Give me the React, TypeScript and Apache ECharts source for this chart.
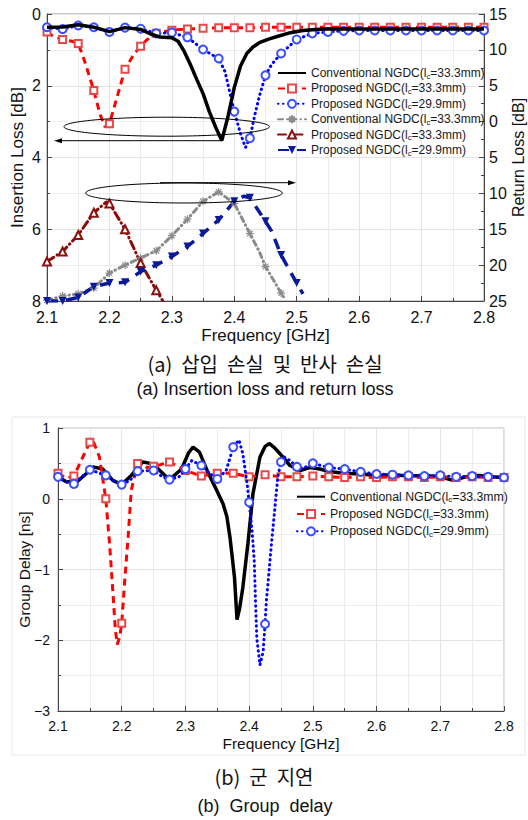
import React, { useEffect, useRef } from "react";
import * as echarts from "echarts";

const FONT = "'Liberation Sans', Arial, Helvetica, sans-serif";
const KFONT = "'Noto Sans CJK KR', 'Liberation Sans', sans-serif";

// ---------- (a) Insertion loss [dB] (left axis) ----------
const ilConvFreq = [2.1, 2.125, 2.15, 2.175, 2.2, 2.225, 2.25, 2.265, 2.28, 2.3, 2.31, 2.32, 2.33, 2.34, 2.35, 2.36, 2.37, 2.38, 2.39, 2.4, 2.41, 2.42, 2.43, 2.44, 2.455, 2.47, 2.49, 2.51, 2.53, 2.55, 2.6, 2.65, 2.7, 2.75, 2.8];
const ilConvVal = [0.37, 0.36, 0.3, 0.37, 0.49, 0.38, 0.43, 0.55, 0.64, 0.66, 0.76, 1.05, 1.42, 1.83, 2.22, 2.72, 3.15, 3.53, 2.85, 2.05, 1.45, 1.1, 0.92, 0.8, 0.7, 0.62, 0.52, 0.46, 0.43, 0.42, 0.42, 0.42, 0.42, 0.42, 0.42];

const ilP33Freq = [2.1, 2.11, 2.125, 2.14, 2.15, 2.16, 2.175, 2.185, 2.193, 2.2, 2.21, 2.225, 2.24, 2.25, 2.26, 2.275, 2.3, 2.325, 2.35, 2.375, 2.4, 2.425, 2.45, 2.475, 2.5, 2.525, 2.55, 2.575, 2.6, 2.625, 2.65, 2.675, 2.7, 2.725, 2.75, 2.775, 2.8];
const ilP33Val = [0.5, 0.62, 0.71, 0.76, 0.82, 1.3, 2.13, 2.8, 3.15, 3.06, 2.45, 1.54, 1.1, 0.9, 0.72, 0.54, 0.45, 0.42, 0.4, 0.38, 0.38, 0.38, 0.37, 0.37, 0.37, 0.37, 0.37, 0.37, 0.37, 0.37, 0.37, 0.37, 0.37, 0.37, 0.37, 0.37, 0.37];

const ilP29Freq = [2.1, 2.125, 2.15, 2.175, 2.2, 2.225, 2.25, 2.275, 2.3, 2.325, 2.35, 2.375, 2.385, 2.393, 2.4, 2.41, 2.418, 2.425, 2.432, 2.44, 2.45, 2.46, 2.475, 2.5, 2.525, 2.55, 2.575, 2.6, 2.625, 2.65, 2.675, 2.7, 2.725, 2.75, 2.775, 2.8];
const ilP29Val = [0.37, 0.42, 0.32, 0.37, 0.5, 0.38, 0.41, 0.54, 0.52, 0.65, 0.99, 1.24, 1.6, 2.2, 2.72, 3.34, 3.72, 3.46, 2.88, 2.3, 1.71, 1.4, 1.1, 0.71, 0.54, 0.5, 0.47, 0.46, 0.46, 0.46, 0.46, 0.46, 0.46, 0.46, 0.46, 0.46];

// ---------- (a) Return loss [dB] (right axis) ----------
const rlConvFreq = [2.1, 2.125, 2.15, 2.175, 2.2, 2.225, 2.25, 2.275, 2.3, 2.325, 2.35, 2.375, 2.4, 2.425, 2.44, 2.45, 2.475, 2.48];
const rlConvVal = [24.9, 24.3, 24.0, 23.2, 21.1, 20.0, 19.0, 18.0, 15.9, 13.6, 11.1, 9.8, 11.4, 15.6, 18.1, 20.2, 23.9, 24.6];

const rlP33Freq = [2.1, 2.125, 2.15, 2.175, 2.195, 2.2, 2.225, 2.25, 2.275, 2.285];
const rlP33Val = [19.5, 18.1, 15.8, 12.7, 11.2, 11.4, 15.0, 19.7, 23.5, 24.9];

const rlP29Freq = [2.1, 2.125, 2.15, 2.175, 2.2, 2.225, 2.25, 2.275, 2.3, 2.325, 2.35, 2.375, 2.4, 2.415, 2.425, 2.45, 2.46, 2.475, 2.5, 2.51];
const rlP29Val = [25, 25, 24.5, 23.0, 22.5, 22.4, 20.9, 20.0, 18.8, 17.4, 15.6, 13.7, 11.1, 10.4, 10.6, 13.9, 15.3, 18.6, 22.5, 24.0];

// ---------- (b) Group delay [ns] ----------
const gdConvFreq = [2.1, 2.113, 2.13, 2.145, 2.155, 2.17, 2.186, 2.2, 2.215, 2.233, 2.245, 2.254, 2.27, 2.28, 2.294, 2.305, 2.312, 2.322, 2.335, 2.349, 2.359, 2.365, 2.37, 2.377, 2.381, 2.385, 2.39, 2.398, 2.406, 2.417, 2.425, 2.432, 2.44, 2.448, 2.464, 2.48, 2.495, 2.511, 2.527, 2.55, 2.575, 2.6, 2.625, 2.65, 2.675, 2.7, 2.72, 2.74, 2.76, 2.78, 2.8];
const gdConvVal = [0.31, 0.24, 0.24, 0.36, 0.45, 0.42, 0.26, 0.2, 0.33, 0.52, 0.5, 0.45, 0.31, 0.31, 0.42, 0.65, 0.73, 0.66, 0.38, 0.12, -0.07, -0.25, -0.55, -1.11, -1.71, -1.55, -1.26, -0.64, 0.07, 0.59, 0.74, 0.78, 0.72, 0.64, 0.47, 0.4, 0.44, 0.42, 0.38, 0.36, 0.35, 0.33, 0.34, 0.32, 0.33, 0.31, 0.26, 0.31, 0.33, 0.31, 0.3];

const gdP33Freq = [2.1, 2.113, 2.125, 2.139, 2.15, 2.155, 2.165, 2.175, 2.181, 2.186, 2.19, 2.193, 2.197, 2.2, 2.205, 2.21, 2.215, 2.225, 2.24, 2.25, 2.26, 2.275, 2.29, 2.3, 2.325, 2.35, 2.375, 2.4, 2.425, 2.45, 2.475, 2.5, 2.525, 2.55, 2.575, 2.6, 2.625, 2.65, 2.675, 2.7, 2.725, 2.75, 2.775, 2.8];
const gdP33Val = [0.36, 0.29, 0.32, 0.59, 0.8, 0.82, 0.59, 0.0, -0.64, -1.3, -1.85, -2.06, -1.95, -1.76, -1.12, -0.55, 0.12, 0.5, 0.44, 0.46, 0.48, 0.52, 0.45, 0.4, 0.32, 0.36, 0.36, 0.31, 0.34, 0.31, 0.31, 0.32, 0.31, 0.3, 0.31, 0.3, 0.31, 0.31, 0.3, 0.31, 0.3, 0.31, 0.3, 0.3];

const gdP29Freq = [2.1, 2.113, 2.125, 2.15, 2.175, 2.19, 2.2, 2.213, 2.225, 2.25, 2.264, 2.275, 2.29, 2.3, 2.31, 2.325, 2.338, 2.35, 2.364, 2.375, 2.384, 2.39, 2.397, 2.4, 2.405, 2.408, 2.41, 2.412, 2.417, 2.422, 2.425, 2.427, 2.43, 2.435, 2.44, 2.445, 2.45, 2.455, 2.464, 2.475, 2.485, 2.5, 2.525, 2.55, 2.575, 2.6, 2.625, 2.65, 2.675, 2.7, 2.725, 2.75, 2.775, 2.8];
const gdP29Val = [0.31, 0.24, 0.21, 0.41, 0.33, 0.24, 0.2, 0.26, 0.39, 0.4, 0.31, 0.27, 0.31, 0.42, 0.54, 0.47, 0.36, 0.28, 0.4, 0.73, 0.83, 0.64, 0.2, -0.05, -0.5, -0.88, -1.45, -1.97, -2.35, -2.16, -1.77, -1.45, -1.15, -0.64, -0.17, 0.31, 0.52, 0.59, 0.54, 0.45, 0.43, 0.5, 0.44, 0.42, 0.38, 0.35, 0.34, 0.33, 0.32, 0.33, 0.31, 0.32, 0.31, 0.3];

// ---------- axis ticks / texts ----------
const freqTicks = { min: 2.1, max: 2.8, step: 0.1 };
const ilTicks = { min: 0, max: 8, step: 2 };
const rlTicks = { min: -15, max: 25, step: 5 };
const gdTicks = { min: -3, max: 1, step: 1 };

const legendText: Record<string, string> = {
  il_conv: "{t|Conventional NGDC(l}{s|c}{t|=33.3mm)}",
  il_p33: "{t|Proposed NGDC(l}{s|c}{t|=33.3mm)}",
  il_p29: "{t|Proposed NGDC(l}{s|c}{t|=29.9mm)}",
  rl_conv: "{t|Conventional NGDC(l}{s|c}{t|=33.3mm)}",
  rl_p33: "{t|Proposed NGDC(l}{s|c}{t|=33.3mm)}",
  rl_p29: "{t|Proposed NGDC(l}{s|c}{t|=29.9mm)}",
  gd_conv: "{t|Conventional NGDC(l}{s|c}{t|=33.3mm)}",
  gd_p33: "{t|Proposed NGDC(l}{s|c}{t|=33.3mm)}",
  gd_p29: "{t|Proposed NGDC(l}{s|c}{t|=29.9mm)}",
};

const ASTERISK = "path://M5,0L5,10M0,5L10,5M1.5,1.5L8.5,8.5M8.5,1.5L1.5,8.5";

function isMarker(f: number) {
  return Math.abs(f * 40 - Math.round(f * 40)) < 1e-6;
}
function toData(freq: number[], vals: number[], marked: boolean) {
  return freq.map((f, i) =>
    marked && isMarker(f) ? [f, vals[i]] : { value: [f, vals[i]], symbol: "none" }
  );
}

const minus = (v: number) => (v < 0 ? "\u2212" + Math.abs(v) : String(v));

export default function App() {
  const ref = useRef<HTMLDivElement>(null);

  useEffect(() => {
    if (!ref.current) return;
    const chart = echarts.init(ref.current, undefined, { renderer: "svg" });

    const axisLineDark = { show: true, onZero: false, lineStyle: { color: "#444", width: 1 } };
    const gridLine = { show: true, lineStyle: { color: "#e4e4e4", width: 1 } };
    const minorGridLine = { show: true, lineStyle: { color: "#ececec", width: 1 } };
    const richFor = (size: number) => ({
      t: { fontSize: size, lineHeight: 14, fontFamily: FONT, color: "#1a1a1a" },
      s: { fontSize: size * 0.65, lineHeight: 8, fontFamily: FONT, color: "#1a1a1a", verticalAlign: "bottom" },
    });

    const option: any = {
      animation: false,
      backgroundColor: "#fff",
      grid: [
        { left: 47, top: 14, width: 437, height: 287, show: true, borderColor: "#999", borderWidth: 1, backgroundColor: "transparent", outerBoundsMode: "none", containLabel: false },
        { left: 58, top: 428, width: 446, height: 283, show: true, borderColor: "#bbb", borderWidth: 1, backgroundColor: "transparent", outerBoundsMode: "none", containLabel: false },
      ],
      xAxis: [
        {
          gridIndex: 0, type: "value", min: freqTicks.min, max: freqTicks.max, interval: freqTicks.step,
          axisLine: axisLineDark,
          axisTick: { inside: true, length: 5, lineStyle: { color: "#444" } },
          minorTick: { show: true, splitNumber: 2, length: 3, lineStyle: { color: "#444" } },
          splitLine: gridLine, minorSplitLine: minorGridLine,
          axisLabel: { fontSize: 16, color: "#111", fontFamily: FONT, margin: 8, formatter: (v: number) => v.toFixed(1) },
          name: "Frequency [GHz]", nameLocation: "middle", nameGap: 26, nameMoveOverlap: false,
          nameTextStyle: { fontSize: 17, fontFamily: FONT, color: "#111" },
        },
        {
          gridIndex: 1, type: "value", min: freqTicks.min, max: freqTicks.max, interval: freqTicks.step,
          axisLine: axisLineDark,
          axisTick: { inside: true, length: 5, lineStyle: { color: "#444" } },
          minorTick: { show: true, splitNumber: 2, length: 3, lineStyle: { color: "#444" } },
          splitLine: gridLine, minorSplitLine: minorGridLine,
          axisLabel: { fontSize: 14, color: "#111", fontFamily: FONT, margin: 8, formatter: (v: number) => v.toFixed(1) },
          name: "Frequency [GHz]", nameLocation: "middle", nameGap: 24, nameMoveOverlap: false,
          nameTextStyle: { fontSize: 15.5, fontFamily: FONT, color: "#111" },
        },
      ],
      yAxis: [
        {
          gridIndex: 0, type: "value", min: ilTicks.min, max: ilTicks.max, interval: ilTicks.step, inverse: true, position: "left",
          axisLine: axisLineDark,
          axisTick: { inside: true, length: 5, lineStyle: { color: "#444" } },
          minorTick: { show: true, splitNumber: 2, length: 3, lineStyle: { color: "#444" } },
          splitLine: gridLine, minorSplitLine: minorGridLine,
          axisLabel: { fontSize: 16, color: "#111", fontFamily: FONT, margin: 6 },
          name: "Insertion Loss [dB]", nameLocation: "middle", nameGap: 21, nameMoveOverlap: false,
          nameTextStyle: { fontSize: 17, fontFamily: FONT, color: "#111" },
        },
        {
          gridIndex: 0, type: "value", min: rlTicks.min, max: rlTicks.max, interval: rlTicks.step, inverse: true, position: "right",
          axisLine: axisLineDark,
          axisTick: { inside: true, length: 5, lineStyle: { color: "#444" } },
          minorTick: { show: true, splitNumber: 2, length: 3, lineStyle: { color: "#444" } },
          splitLine: { show: false },
          axisLabel: { fontSize: 16, color: "#111", fontFamily: FONT, margin: 5, formatter: (v: number) => String(Math.abs(v)) },
          name: "Return Loss [dB]", nameLocation: "middle", nameGap: 26, nameMoveOverlap: false,
          nameTextStyle: { fontSize: 16, fontFamily: FONT, color: "#111" },
        },
        {
          gridIndex: 1, type: "value", min: gdTicks.min, max: gdTicks.max, interval: gdTicks.step, position: "left",
          axisLine: axisLineDark,
          axisTick: { inside: true, length: 5, lineStyle: { color: "#444" } },
          minorTick: { show: true, splitNumber: 2, length: 3, lineStyle: { color: "#444" } },
          splitLine: gridLine, minorSplitLine: minorGridLine,
          axisLabel: { fontSize: 14, color: "#111", fontFamily: FONT, margin: 8, formatter: minus },
          name: "Group Delay [ns]", nameLocation: "middle", nameGap: 26, nameMoveOverlap: false,
          nameTextStyle: { fontSize: 15.5, fontFamily: FONT, color: "#111" },
        },
      ],
      legend: [
        {
          orient: "vertical", left: 277, top: 67, padding: 0, itemGap: 2.4, itemWidth: 28, itemHeight: 10,
          selectedMode: false,
          data: [
            { name: "il_conv", itemStyle: { opacity: 0 } },
            "il_p33", "il_p29", "rl_conv", "rl_p33", "rl_p29",
          ],
          formatter: (n: string) => legendText[n],
          textStyle: { fontFamily: FONT, fontSize: 12, color: "#1a1a1a", rich: richFor(12) },
        },
        {
          orient: "vertical", left: 296, top: 490.7, padding: 0, itemGap: 4.3, itemWidth: 28, itemHeight: 10,
          selectedMode: false,
          data: [{ name: "gd_conv", itemStyle: { opacity: 0 } }, "gd_p33", "gd_p29"],
          formatter: (n: string) => legendText[n],
          textStyle: { fontFamily: FONT, fontSize: 12.3, color: "#1a1a1a", rich: richFor(12.3) },
        },
      ],
      series: [
        {
          name: "il_conv", type: "line", xAxisIndex: 0, yAxisIndex: 0, symbol: "none", z: 5,
          data: toData(ilConvFreq, ilConvVal, false),
          itemStyle: { color: "#000" }, lineStyle: { color: "#000", width: 3.5 },
        },
        {
          name: "il_p33", type: "line", xAxisIndex: 0, yAxisIndex: 0, symbol: "emptyRect", symbolSize: 7, z: 4,
          data: toData(ilP33Freq, ilP33Val, true),
          itemStyle: { color: "#e84848", borderWidth: 1 }, lineStyle: { color: "#ff0000", width: 3, type: [7, 5] },
        },
        {
          name: "il_p29", type: "line", xAxisIndex: 0, yAxisIndex: 0, symbol: "emptyCircle", symbolSize: 8, z: 4,
          data: toData(ilP29Freq, ilP29Val, true),
          itemStyle: { color: "#3a50ff", borderWidth: 1 }, lineStyle: { color: "#0000ff", width: 3, type: [0.5, 4.5], cap: "round" },
        },
        {
          name: "rl_conv", type: "line", xAxisIndex: 0, yAxisIndex: 1, symbol: ASTERISK, symbolSize: 8, z: 3,
          data: toData(rlConvFreq, rlConvVal, true),
          itemStyle: { color: "#999", borderColor: "#8c8c8c", borderWidth: 1.2 },
          lineStyle: { color: "#8a8a8a", width: 3, type: [5, 4, 0.5, 4], cap: "round" },
        },
        {
          name: "rl_p33", type: "line", xAxisIndex: 0, yAxisIndex: 1, symbol: "emptyTriangle", symbolSize: 8, z: 3,
          data: toData(rlP33Freq, rlP33Val, true),
          itemStyle: { color: "#8b1010", borderWidth: 1 },
          lineStyle: { color: "#8b0a0a", width: 3, type: [8, 4, 0.5, 4], cap: "round" },
        },
        {
          name: "rl_p29", type: "line", xAxisIndex: 0, yAxisIndex: 1, symbol: "triangle", symbolRotate: 180, symbolSize: 8, z: 3,
          data: toData(rlP29Freq, rlP29Val, true),
          itemStyle: { color: "#0b1a9a" },
          lineStyle: { color: "#0b1a9a", width: 3.5, type: [11, 8] },
        },
        {
          name: "gd_conv", type: "line", xAxisIndex: 1, yAxisIndex: 2, symbol: "none", z: 3,
          data: toData(gdConvFreq, gdConvVal, false),
          itemStyle: { color: "#000" }, lineStyle: { color: "#000", width: 3.5 },
        },
        {
          name: "gd_p33", type: "line", xAxisIndex: 1, yAxisIndex: 2, symbol: "emptyRect", symbolSize: 7, z: 4,
          data: toData(gdP33Freq, gdP33Val, true),
          itemStyle: { color: "#e84848", borderWidth: 1 }, lineStyle: { color: "#ff0000", width: 3, type: [7, 5] },
        },
        {
          name: "gd_p29", type: "line", xAxisIndex: 1, yAxisIndex: 2, symbol: "emptyCircle", symbolSize: 8, z: 5,
          data: toData(gdP29Freq, gdP29Val, true),
          itemStyle: { color: "#3a50ff", borderWidth: 1 }, lineStyle: { color: "#0000ff", width: 3, type: [0.5, 4.5], cap: "round" },
        },
      ],
      graphic: [
        // outer frame of figure (b)
        { type: "rect", z: -1, shape: { x: 12, y: 417, width: 513, height: 338 }, style: { fill: "none", stroke: "#e6e6e6", lineWidth: 1 } },
        // annotations of figure (a)
        { type: "ellipse", z: 100, shape: { cx: 166.7, cy: 126.7, rx: 102.7, ry: 9.5 }, style: { fill: "none", stroke: "#000", lineWidth: 1 } },
        { type: "line", z: 100, shape: { x1: 222, y1: 140.7, x2: 60, y2: 140.7 }, style: { stroke: "#000", lineWidth: 1 } },
        { type: "polygon", z: 100, shape: { points: [[54, 140.7], [62, 138.2], [62, 143.2]] }, style: { fill: "#000" } },
        { type: "ellipse", z: 100, shape: { cx: 184, cy: 193, rx: 98.3, ry: 10 }, style: { fill: "none", stroke: "#000", lineWidth: 1 } },
        { type: "line", z: 100, shape: { x1: 160, y1: 182.7, x2: 290, y2: 182.7 }, style: { stroke: "#000", lineWidth: 1 } },
        { type: "polygon", z: 100, shape: { points: [[296, 182.7], [288, 180.2], [288, 185.2]] }, style: { fill: "#000" } },
        // captions
        { type: "text", x: 265, y: 363, style: { text: "(a)  삽입  손실  및  반사  손실", fontSize: 20, fontFamily: KFONT, fill: "#111", align: "center", verticalAlign: "middle", textAlign: "center", textVerticalAlign: "middle" } },
        { type: "text", x: 265, y: 389, style: { text: "(a) Insertion loss and return loss", fontSize: 18, fontFamily: FONT, fill: "#111", align: "center", verticalAlign: "middle", textAlign: "center", textVerticalAlign: "middle" } },
        { type: "text", x: 264, y: 776, style: { text: "(b)  군  지연", fontSize: 20, fontFamily: KFONT, fill: "#111", align: "center", verticalAlign: "middle", textAlign: "center", textVerticalAlign: "middle" } },
        { type: "text", x: 265, y: 806, style: { text: "(b)  Group  delay", fontSize: 18, fontFamily: FONT, fill: "#111", align: "center", verticalAlign: "middle", textAlign: "center", textVerticalAlign: "middle" } },
      ],
    };

    chart.setOption(option);
    return () => chart.dispose();
  }, []);

  return (
    <div
      ref={ref}
      style={{ position: "absolute", left: 0, top: 0, width: 528, height: 820, background: "#fff" }}
    />
  );
}
